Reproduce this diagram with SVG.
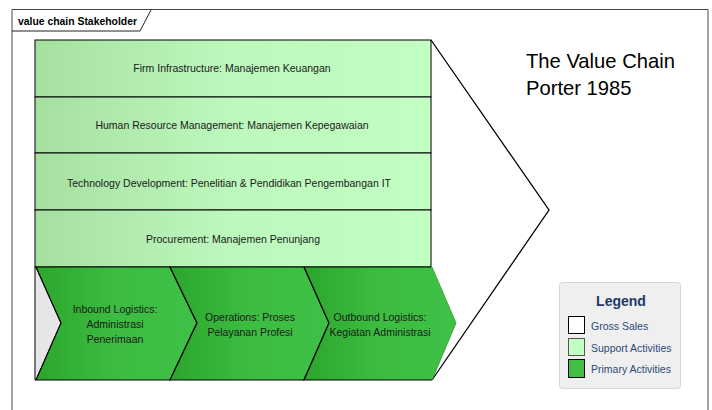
<svg xmlns="http://www.w3.org/2000/svg" width="712" height="410" viewBox="0 0 712 410">
<defs>
<linearGradient id="gSup" x1="0" y1="0" x2="1" y2="0">
<stop offset="0" stop-color="#a6e0a0"/>
<stop offset="0.5" stop-color="#bdf8bd"/>
<stop offset="1" stop-color="#c2ffc2"/>
</linearGradient>
<linearGradient id="gPri" x1="0" y1="0" x2="1" y2="0">
<stop offset="0" stop-color="#2ca62c"/>
<stop offset="0.5" stop-color="#3cbd42"/>
<stop offset="1" stop-color="#3fc046"/>
</linearGradient>
<style>
.sup{fill:url(#gSup);stroke:#000;stroke-width:1}
.pri{fill:url(#gPri);stroke:#000;stroke-width:1.2}
.t{font-family:"Liberation Sans",Arial,sans-serif;font-size:10.5px;fill:#1a1a1a;text-anchor:middle}
.lt{font-family:"Liberation Sans",Arial,sans-serif;font-size:10.5px;fill:#2b4a78}
</style>
</defs>
<rect x="0" y="0" width="712" height="410" fill="#fff"/>
<g id="frame">
<path d="M12,420 L12,9.5 L708,9.5 L708,420" fill="none" stroke="#444" stroke-width="1"/>
<path d="M12,31 L140,31 L151,10" fill="none" stroke="#222" stroke-width="1"/>
<text x="18" y="25" font-family="Liberation Sans,Arial,sans-serif" font-size="10.4" font-weight="bold" fill="#000">value chain Stakeholder</text>
</g>
<g id="margin">
<polyline points="431,40 549,210 432,380" fill="none" stroke="#000" stroke-width="1.3"/>
</g>
<g id="firm-infrastructure">
<rect class="sup" x="35" y="40" width="396" height="57"/>
<text class="t" x="232" y="72">Firm Infrastructure: Manajemen Keuangan</text>
</g>
<g id="hrm">
<rect class="sup" x="35" y="97" width="396" height="56"/>
<text class="t" x="232" y="129">Human Resource Management: Manajemen Kepegawaian</text>
</g>
<g id="tech-dev">
<rect class="sup" x="35" y="153" width="396" height="57"/>
<text class="t" x="229" y="187">Technology Development: Penelitian &amp; Pendidikan Pengembangan IT</text>
</g>
<g id="procurement">
<rect class="sup" x="35" y="210" width="396" height="57"/>
<text class="t" x="233" y="243">Procurement: Manajemen Penunjang</text>
</g>
<g id="gross-sales-notch">
<polygon points="35,267 36,267 61,323 36,380 35,380" fill="#e6e6e6" stroke="#000" stroke-width="1"/>
</g>
<g id="inbound">
<polygon class="pri" points="36,267 170,267 197,323 170,380 36,380 61,323"/>
<text class="t" x="115" y="313">Inbound Logistics:</text>
<text class="t" x="115" y="328">Administrasi</text>
<text class="t" x="115" y="343">Penerimaan</text>
</g>
<g id="operations">
<polygon class="pri" points="170,267 304,267 329,323 304,380 170,380 197,323"/>
<text class="t" x="250" y="321">Operations: Proses</text>
<text class="t" x="250" y="336">Pelayanan Profesi</text>
</g>
<g id="outbound">
<polygon points="304,267 432,267 456,323 432,380 304,380 329,323" fill="url(#gPri)" stroke="none"/>
<polyline points="432,267 456,323 432,380" fill="none" stroke="#2a9a2a" stroke-width="0.8"/>
<polyline points="304,267 329,323 304,380 432,380" fill="none" stroke="#000" stroke-width="1.2"/>
<line x1="431" y1="267" x2="304" y2="267" stroke="#000" stroke-width="1"/>
<text class="t" x="380" y="321">Outbound Logistics:</text>
<text class="t" x="380" y="336">Kegiatan Administrasi</text>
</g>
<g id="title">
<text x="526" y="68" font-family="Liberation Sans,Arial,sans-serif" font-size="20.2" fill="#000">The Value Chain</text>
<text x="526" y="95" font-family="Liberation Sans,Arial,sans-serif" font-size="20.2" fill="#000">Porter 1985</text>
</g>
<g id="legend">
<rect x="559.5" y="282.5" width="121" height="106" rx="3" fill="#efefef" stroke="#d6d6d6"/>
<text x="621" y="306" font-family="Liberation Sans,Arial,sans-serif" font-size="14" font-weight="bold" fill="#1f3a66" text-anchor="middle">Legend</text>
<rect x="568.5" y="316.5" width="16" height="17" fill="#fff" stroke="#000"/>
<text class="lt" x="591" y="330">Gross Sales</text>
<rect x="568.5" y="338.5" width="16" height="17" fill="#c2ffc2" stroke="#555"/>
<text class="lt" x="591" y="352">Support Activities</text>
<rect x="568.5" y="359.5" width="16" height="18" fill="#3fbf44" stroke="#000"/>
<text class="lt" x="591" y="373">Primary Activities</text>
</g>
</svg>
